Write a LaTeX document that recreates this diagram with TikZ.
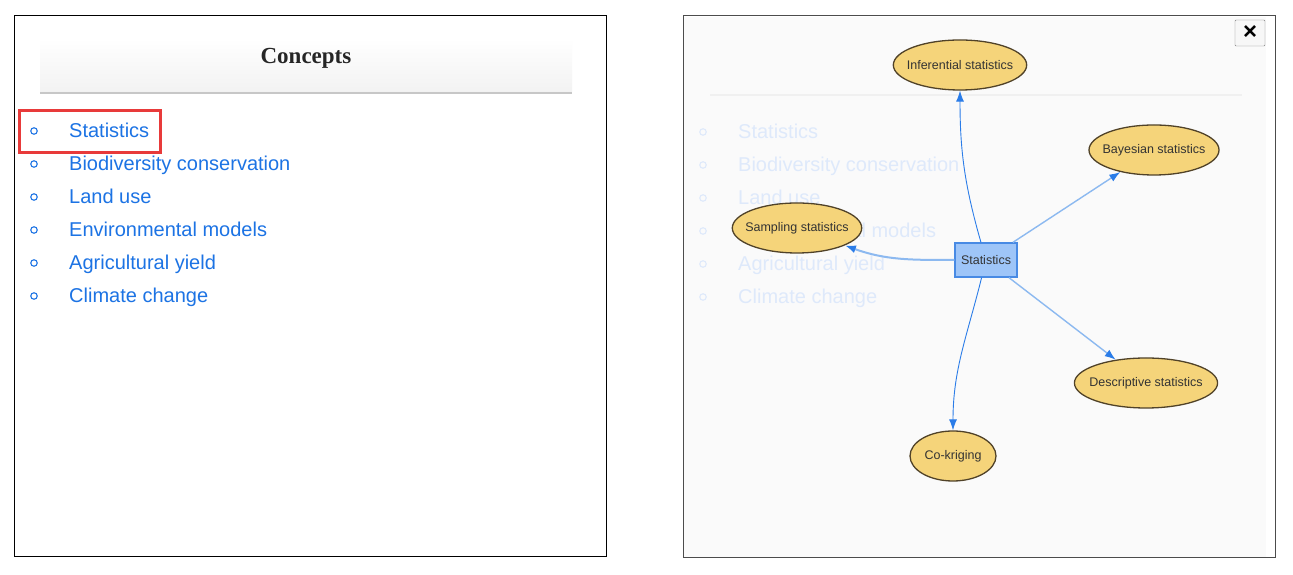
\documentclass[tikz,border=0pt]{standalone}
\usepackage{fontspec}
\setmainfont{Liberation Sans}
\newfontfamily\titlefont{Liberation Serif}
\usetikzlibrary{shapes.geometric,arrows.meta}
\definecolor{linkblue}{RGB}{28,115,228}
\definecolor{fadeblue}{RGB}{222,233,250}
\definecolor{nodegold}{RGB}{245,212,122}
\definecolor{nodeedge}{RGB}{80,66,40}
\definecolor{statblue}{RGB}{158,197,248}
\definecolor{statedge}{RGB}{72,138,228}
\definecolor{arrowblue}{RGB}{42,124,232}
\definecolor{lightedge}{RGB}{140,185,240}
\definecolor{markred}{RGB}{232,58,58}

\begin{document}
\begin{tikzpicture}[x=1pt,y=1pt,>={Latex[length=11pt,width=8pt,color=arrowblue]},
  concept/.style={ellipse,draw=nodeedge,line width=1.3pt,fill=nodegold,minimum height=50pt,inner xsep=-6pt,inner ysep=0pt,text=black!80,font=\fontsize{12.5}{14}\selectfont},
  item/.style={anchor=base west,inner sep=0pt,font=\fontsize{20}{24}\selectfont},
  dot/.style={circle,draw,line width=1.1pt,minimum size=6.5pt,inner sep=0pt},
  thinedge/.style={->,arrowblue,line width=0.9pt},
  softedge/.style={->,lightedge,line width=1.4pt}]
\useasboundingbox (0,0) rectangle (1293,575);
\fill[white] (0,0) rectangle (1293,575);

% left panel
\draw[line width=1pt] (14,559) rectangle (606,18);
\shade[top color=white,bottom color=black!5] (40,537) rectangle (572,483);
\draw[black!22,line width=2pt] (40,482) -- (572,482);
\node(title)[anchor=base,inner sep=0pt,font=\titlefont\bfseries\fontsize{23}{26}\selectfont,text=black!85] at (306,511) {Concepts};

\node(b1)[dot,linkblue] at (34,444) {};
\node(b2)[dot,linkblue] at (34,411) {};
\node(b3)[dot,linkblue] at (34,378) {};
\node(b4)[dot,linkblue] at (34,345) {};
\node(b5)[dot,linkblue] at (34,312) {};
\node(b6)[dot,linkblue] at (34,279) {};
\node(l1)[item,linkblue] at (69,437) {Statistics};
\node(l2)[item,linkblue] at (69,404) {Biodiversity conservation};
\node(l3)[item,linkblue] at (69,371) {Land use};
\node(l4)[item,linkblue] at (69,338) {Environmental models};
\node(l5)[item,linkblue] at (69,305) {Agricultural yield};
\node(l6)[item,linkblue] at (69,272) {Climate change};
\node(mark)[draw=markred,line width=3pt,minimum width=141pt,minimum height=42pt] at (89.5,443) {};

% right panel
\fill[black!2] (684,558) rectangle (1266,18);
\draw[black!70,line width=1pt] (683,559) rectangle (1275,17);
\draw[black!6,line width=2pt] (710,480) -- (1242,480);
\node(close)[draw=black!50,fill=black!3,rounded corners=1pt,minimum width=30pt,minimum height=26pt,inner sep=0pt,font=\bfseries\fontsize{24}{24}\selectfont] at (1250,542) {×};

\node(fb1)[dot,fadeblue] at (703,443) {};
\node(fb2)[dot,fadeblue] at (703,410) {};
\node(fb3)[dot,fadeblue] at (703,377) {};
\node(fb4)[dot,fadeblue] at (703,344) {};
\node(fb5)[dot,fadeblue] at (703,311) {};
\node(fb6)[dot,fadeblue] at (703,278) {};
\node(f1)[item,fadeblue] at (738,436) {Statistics};
\node(f2)[item,fadeblue] at (738,403) {Biodiversity conservation};
\node(f3)[item,fadeblue] at (738,370) {Land use};
\node(f4)[item,fadeblue] at (738,337) {Environmental models};
\node(f5)[item,fadeblue] at (738,304) {Agricultural yield};
\node(f6)[item,fadeblue] at (738,271) {Climate change};

\node(inf)[concept,minimum width=132pt] at (960,510) {Inferential statistics};
\node(bay)[concept,minimum width=130pt] at (1154,425) {Bayesian statistics};
\node(samp)[concept,minimum width=128pt] at (797,347) {Sampling statistics};
\node(desc)[concept,minimum width=140pt] at (1146,192) {Descriptive statistics};
\node(cok)[concept,minimum width=86pt] at (953,119) {Co-kriging};
\node(stat)[draw=statedge,line width=1.3pt,fill=statblue,minimum width=62pt,minimum height=34pt,inner sep=0pt,text=black!80,font=\fontsize{12.5}{14}\selectfont] at (986,315) {Statistics};

\draw[thinedge] (stat) to[out=106,in=-90] (inf);
\draw[softedge] (stat) -- (bay);
\draw[softedge] (stat) -- (desc);
\draw[softedge,line width=2pt] (stat) to[out=180,in=-20] (samp);
\draw[thinedge] (stat) to[out=-104,in=90] (cok);

\end{tikzpicture}
\end{document}
